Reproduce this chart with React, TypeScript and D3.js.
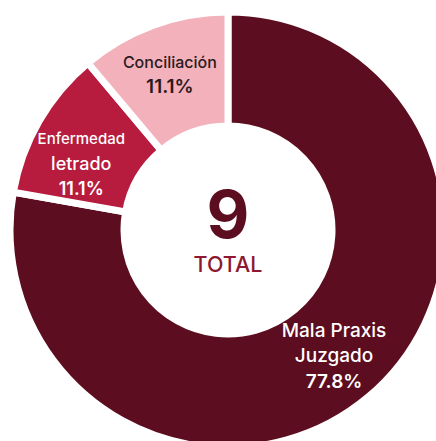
import * as d3 from 'd3';

const labels = ['Mala Praxis Juzgado', 'Enfermedad letrado', 'Conciliación'];
const values = [7, 1, 1];
const total = 9;

const colors = ['#5c0d1f', '#b71c3e', '#f3b1bb'];
const textColors = ['#ffffff', '#ffffff', '#2b1a1d'];

// label lines per slice (first lines, then the percent)
const labelLines = [['Mala Praxis', 'Juzgado'], ['Enfermedad', 'letrado'], ['Conciliación']];
const lineSizes = [[19, 19, 19], [15, 18, 18], [16, 19]];
// small nudges so labels sit like the original
const labelAngleShift = [0, -5.7, -0.5];
const labelRadius = [165, 161, 166];

export default function App() {
  const width = 436;
  const height = 441;
  const cx = 228;
  const cy = 230;
  const outerRadius = 218;
  const innerRadius = 104;

  const pie = d3.pie<number>().sort(null).value((d) => d);
  const arcs = pie(values);
  const arc = d3.arc<d3.PieArcDatum<number>>().innerRadius(innerRadius).outerRadius(outerRadius);
  const fmt = d3.format('.1f');

  return (
    <svg
      width={width}
      height={height}
      style={{ position: 'absolute', left: 0, top: 0, fontFamily: 'Inter, sans-serif' }}
    >
      <rect width={width} height={height} fill="#ffffff" />
      <g transform={`translate(${cx},${cy})`}>
        {arcs.map((a, i) => (
          <path key={labels[i]} d={arc(a) || ''} fill={colors[i]} stroke="#ffffff" strokeWidth={7} strokeLinejoin="miter" />
        ))}
        {arcs.map((a, i) => {
          const mid = (a.startAngle + a.endAngle) / 2 + (labelAngleShift[i] * Math.PI) / 180;
          const r = labelRadius[i];
          const x = Math.sin(mid) * r;
          const y = -Math.cos(mid) * r;
          const lines = [...labelLines[i], `${fmt((values[i] / total) * 100)}%`];
          const n = lines.length;
          const step = 25.5;
          return (
            <text key={labels[i]} textAnchor="middle" fill={textColors[i]}>
              {lines.map((l, j) => (
                <tspan
                  key={j}
                  x={x}
                  y={y + (j - (n - 1) / 2) * step + 6}
                  fontSize={lineSizes[i][j]}
                  fontWeight={j === n - 1 ? 600 : 500}
                >
                  {l}
                </tspan>
              ))}
            </text>
          );
        })}
        <text x={0} y={8} textAnchor="middle" fontSize={66} fontWeight={700} fill="#5c0d1f">
          {total}
        </text>
        <text x={0} y={42} textAnchor="middle" fontSize={21.5} fontWeight={500} fill="#8e1733">
          TOTAL
        </text>
      </g>
    </svg>
  );
}
